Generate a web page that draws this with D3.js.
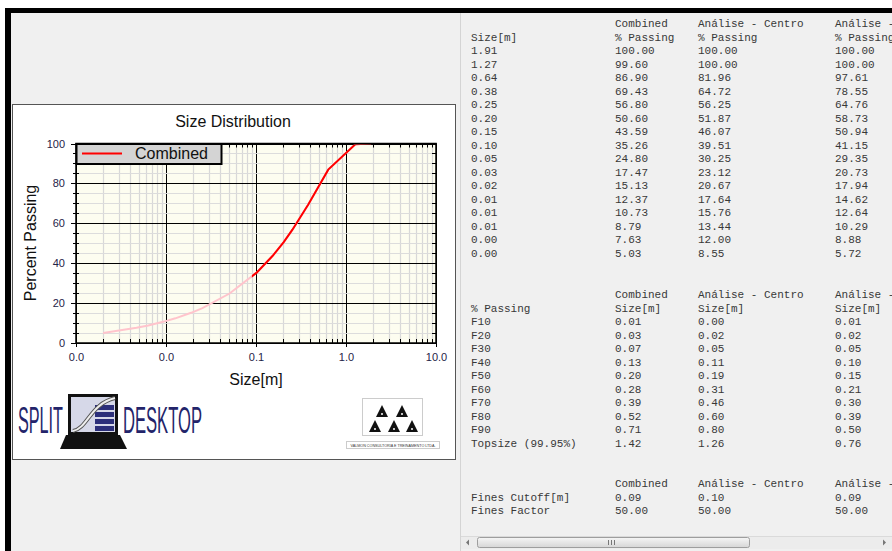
<!DOCTYPE html>
<html>
<head>
<meta charset="utf-8">
<script src="https://cdn.jsdelivr.net/npm/d3@7"></script>
<style>
  body { margin: 0; background: #ffffff; overflow: hidden; }
  svg { display: block; }
  .mono { font-family: "Liberation Mono", "Courier New", monospace; font-size: 11px; fill: #383838; }
  .tick text { font-family: "Liberation Sans", Arial, sans-serif; font-size: 11px; fill: #1f2348; }
</style>
</head>
<body>
<svg id="page" width="892" height="551"></svg>
<script>

// sieve sizes [m] and % passing per analysis
var sizes = [1.905, 1.27, 0.635, 0.381, 0.254, 0.2032, 0.1524, 0.1016, 0.0508, 0.0254, 0.019, 0.0127, 0.0095, 0.00635, 0.0047, 0.002];
var combinedPassing = [100.00, 99.60, 86.90, 69.43, 56.80, 50.60, 43.59, 35.26, 24.80, 17.47, 15.13, 12.37, 10.73, 8.79, 7.63, 5.03];
var centroPassing = [100.00, 100.00, 81.96, 64.72, 56.25, 51.87, 46.07, 39.51, 30.25, 23.12, 20.67, 17.64, 15.76, 13.44, 12.00, 8.55];
var thirdPassing = [100.00, 100.00, 97.61, 78.55, 64.76, 58.73, 50.94, 41.15, 29.35, 20.73, 17.94, 14.62, 12.64, 10.29, 8.88, 5.72];

var seriesNames = ["Combined", "Análise - Centro", "Análise -"];

var fLabels = ["F10", "F20", "F30", "F40", "F50", "F60", "F70", "F80", "F90", "Topsize (99.95%)"];
var combinedF = [0.01, 0.03, 0.07, 0.13, 0.20, 0.28, 0.39, 0.52, 0.71, 1.42];
var centroF = [0.00, 0.02, 0.05, 0.11, 0.19, 0.31, 0.46, 0.60, 0.80, 1.26];
var thirdF = [0.01, 0.02, 0.05, 0.10, 0.15, 0.21, 0.30, 0.39, 0.50, 0.76];

var finesCutoff = [0.09, 0.10, 0.09];
var finesFactor = [50.00, 50.00, 50.00];

var xTickValues = [0.001, 0.01, 0.1, 1, 10];
var yTickValues = [0, 20, 40, 60, 80, 100];

var svg = d3.select("#page");
var f2 = d3.format(".2f");

// window frame
svg.append("rect").attr("x", 5).attr("y", 8).attr("width", 887).attr("height", 543).attr("fill", "#000");
svg.append("rect").attr("x", 11).attr("y", 13).attr("width", 881).attr("height", 538).attr("fill", "#f0f0f0");
svg.append("line").attr("x1", 460.5).attr("x2", 460.5).attr("y1", 13).attr("y2", 551).attr("stroke", "#d4d4d4");

// chart panel
svg.append("rect").attr("x", 12.5).attr("y", 104.5).attr("width", 443).attr("height", 355)
   .attr("fill", "#fff").attr("stroke", "#555");

var x = d3.scaleLog().domain([0.001, 10]).range([76, 436]);
var y = d3.scaleLinear().domain([0, 100]).range([343, 143.5]);

var data = sizes.map(function(s, i) { return {size: s, value: combinedPassing[i]}; });

var plot = svg.append("g");

plot.append("rect").attr("x", 76).attr("y", 143.5).attr("width", 360).attr("height", 199.5).attr("fill", "#fdfdf0");

// grid
var minorX = x.ticks();
plot.selectAll(".gx").data(minorX).enter().append("line")
    .attr("x1", function(d) { return Math.round(x(d)) + 0.5; })
    .attr("x2", function(d) { return Math.round(x(d)) + 0.5; })
    .attr("y1", 143.5).attr("y2", 343)
    .attr("stroke", function(d) { return xTickValues.indexOf(d) >= 0 ? "#000" : "#d8d8d8"; })
    .attr("stroke-width", function(d) { return xTickValues.indexOf(d) >= 0 ? 1 : 1.2; });

var minorY = d3.range(0, 101, 5);
plot.selectAll(".gy").data(minorY).enter().append("line")
    .attr("x1", 76).attr("x2", 436)
    .attr("y1", function(d) { return Math.round(y(d)) + 0.5; })
    .attr("y2", function(d) { return Math.round(y(d)) + 0.5; })
    .attr("stroke", function(d) { return d % 20 == 0 ? "#000" : "#dcdcdc"; });

// curve: pale below fines cutoff, red above
var valueline = d3.line()
                  .x(function(d) { return x(d.size); })
                  .y(function(d) { return y(d.value); });

var defs = svg.append("defs");
defs.append("clipPath").attr("id", "inside")
    .append("rect").attr("x", 76).attr("y", 144.6).attr("width", 360).attr("height", 198);
defs.append("clipPath").attr("id", "coarse")
    .append("rect").attr("x", x(finesCutoff[0])).attr("y", 144.6).attr("width", 436 - x(finesCutoff[0])).attr("height", 198);

plot.append("path").datum(data)
    .attr("clip-path", "url(#inside)")
    .attr("fill", "none").attr("stroke", "#ffc4cc").attr("stroke-width", 2).attr("d", valueline);
plot.append("path").datum(data)
    .attr("clip-path", "url(#coarse)")
    .attr("fill", "none").attr("stroke", "#ff0000").attr("stroke-width", 2).attr("d", valueline);

// minor ticks on all sides
plot.selectAll(".tb").data(minorX).enter().append("line")
    .attr("x1", function(d) { return Math.round(x(d)) + 0.5; })
    .attr("x2", function(d) { return Math.round(x(d)) + 0.5; })
    .attr("y1", 343).attr("y2", function(d) { return xTickValues.indexOf(d) >= 0 ? 347 : 339; })
    .attr("stroke", "#000");
plot.selectAll(".tt").data(minorX).enter().append("line")
    .attr("x1", function(d) { return Math.round(x(d)) + 0.5; })
    .attr("x2", function(d) { return Math.round(x(d)) + 0.5; })
    .attr("y1", 143.5).attr("y2", 147.5)
    .attr("stroke", "#000");
plot.selectAll(".tl").data(minorY).enter().append("line")
    .attr("x1", function(d) { return d % 20 == 0 ? 71 : 73; }).attr("x2", 79)
    .attr("y1", function(d) { return Math.round(y(d)) + 0.5; })
    .attr("y2", function(d) { return Math.round(y(d)) + 0.5; })
    .attr("stroke", "#000");
plot.selectAll(".tr").data(minorY).enter().append("line")
    .attr("x1", 432).attr("x2", 436)
    .attr("y1", function(d) { return Math.round(y(d)) + 0.5; })
    .attr("y2", function(d) { return Math.round(y(d)) + 0.5; })
    .attr("stroke", "#000");

plot.append("rect").attr("x", 76).attr("y", 143.5).attr("width", 360).attr("height", 199.5)
    .attr("fill", "none").attr("stroke", "#000").attr("stroke-width", 1.5);

// axis labels
var xAxis = svg.append("g").attr("transform", "translate(0,343)")
               .call(d3.axisBottom(x).tickValues(xTickValues).tickFormat(d3.format(".1f")).tickSize(0).tickPadding(10));
xAxis.select(".domain").remove();

var yAxis = svg.append("g").attr("transform", "translate(76,0)")
               .call(d3.axisLeft(y).tickValues(yTickValues).tickSize(0).tickPadding(11));
yAxis.select(".domain").remove();

svg.append("text").attr("x", 233).attr("y", 127).attr("text-anchor", "middle")
   .style("font-family", "Liberation Sans, Arial, sans-serif").style("font-size", "16px").style("fill", "#111")
   .text("Size Distribution");
svg.append("text").attr("x", 256).attr("y", 385).attr("text-anchor", "middle")
   .style("font-family", "Liberation Sans, Arial, sans-serif").style("font-size", "16px").style("fill", "#111")
   .text("Size[m]");
svg.append("text").attr("transform", "translate(36,243) rotate(-90)").attr("text-anchor", "middle")
   .style("font-family", "Liberation Sans, Arial, sans-serif").style("font-size", "16px").style("fill", "#111")
   .text("Percent Passing");

// legend
var legend = svg.append("g");
legend.append("rect").attr("x", 76.5).attr("y", 144).attr("width", 145).attr("height", 20)
      .attr("fill", "#d4d4d4").attr("stroke", "#000").attr("stroke-width", 2);
legend.append("line").attr("x1", 82).attr("x2", 122).attr("y1", 153.5).attr("y2", 153.5)
      .attr("stroke", "#ff0000").attr("stroke-width", 2);
legend.append("text").attr("x", 135).attr("y", 159)
      .style("font-family", "Liberation Sans, Arial, sans-serif").style("font-size", "16px").style("fill", "#111")
      .text(seriesNames[0]);

// SPLIT DESKTOP logo
var logo = svg.append("g");
logo.append("text").attr("x", 18).attr("y", 433).attr("textLength", 45).attr("lengthAdjust", "spacingAndGlyphs")
    .style("font-family", "Liberation Sans, Arial, sans-serif").style("font-size", "37px").style("fill", "#23246a")
    .text("SPLIT");
logo.append("text").attr("x", 123).attr("y", 433).attr("textLength", 79).attr("lengthAdjust", "spacingAndGlyphs")
    .style("font-family", "Liberation Sans, Arial, sans-serif").style("font-size", "37px").style("fill", "#23246a")
    .text("DESKTOP");
logo.append("rect").attr("x", 68).attr("y", 394).attr("width", 50).attr("height", 41).attr("fill", "#111");
logo.append("rect").attr("x", 71).attr("y", 397).attr("width", 44).attr("height", 35).attr("fill", "#d6d8e8");
[0, 1, 2, 3].forEach(function(i) {
  logo.append("rect").attr("x", 95).attr("y", 405 + i * 7).attr("width", 19).attr("height", 5).attr("fill", "#2c2f7a");
});
logo.append("path").attr("d", "M73,431 C88,428 90,404 115,398").attr("fill", "none").attr("stroke", "#555").attr("stroke-width", 4);
logo.append("path").attr("d", "M73,431 C88,428 90,404 115,398").attr("fill", "none").attr("stroke", "#eee").attr("stroke-width", 2);
logo.append("path").attr("d", "M66,435 L120,435 L127,449 L60,449 Z").attr("fill", "#111");

// consulting logo
var logo2 = svg.append("g");
logo2.append("rect").attr("x", 362.5).attr("y", 398.5).attr("width", 60).attr("height", 37).attr("fill", "#fff").attr("stroke", "#ccc");
[[382, 405], [402, 405], [375, 420], [394, 420], [412, 420]].forEach(function(p) {
  logo2.append("path").attr("d", "M" + p[0] + "," + p[1] + " L" + (p[0] + 6) + "," + (p[1] + 12) + " L" + (p[0] - 6) + "," + (p[1] + 12) + " Z").attr("fill", "#111");
  logo2.append("circle").attr("cx", p[0]).attr("cy", p[1] + 9).attr("r", 1).attr("fill", "#fff");
});
logo2.append("rect").attr("x", 346.5).attr("y", 441.5).attr("width", 93).attr("height", 7).attr("fill", "#fff").attr("stroke", "#ccc");
logo2.append("text").attr("x", 393).attr("y", 446.5).attr("text-anchor", "middle").attr("textLength", 85).attr("lengthAdjust", "spacingAndGlyphs")
     .style("font-family", "Liberation Sans, Arial, sans-serif").style("font-size", "4px").style("fill", "#333")
     .text("VALMON CONSULTORIA E TREINAMENTO LTDA.");

// results tables
var colX = [471, 615, 698, 835];
var rowH = 13.5;

function addRow(cells, yy) {
  cells.forEach(function(c, i) {
    svg.append("text").attr("class", "mono").attr("x", colX[i]).attr("y", yy).attr("xml:space", "preserve").text(c);
  });
}

var t1 = 27;
addRow(["", seriesNames[0], seriesNames[1], seriesNames[2]], t1);
addRow(["Size[m]", "% Passing", "% Passing", "% Passing"], t1 + rowH);
sizes.forEach(function(s, i) {
  addRow([f2(s), f2(combinedPassing[i]), f2(centroPassing[i]), f2(thirdPassing[i])], t1 + rowH * (i + 2));
});

var t2 = 298;
addRow(["", seriesNames[0], seriesNames[1], seriesNames[2]], t2);
addRow(["% Passing", "Size[m]", "Size[m]", "Size[m]"], t2 + rowH);
fLabels.forEach(function(l, i) {
  addRow([l, f2(combinedF[i]), f2(centroF[i]), f2(thirdF[i])], t2 + rowH * (i + 2));
});

var t3 = 487;
addRow(["", seriesNames[0], seriesNames[1], seriesNames[2]], t3);
addRow(["Fines Cutoff[m]", f2(finesCutoff[0]), f2(finesCutoff[1]), f2(finesCutoff[2])], t3 + rowH);
addRow(["Fines Factor", f2(finesFactor[0]), f2(finesFactor[1]), f2(finesFactor[2])], t3 + rowH * 2);

// horizontal scrollbar
var sb = svg.append("g");
sb.append("rect").attr("x", 461).attr("y", 536).attr("width", 431).attr("height", 13).attr("fill", "#ececec");
sb.append("line").attr("x1", 461).attr("x2", 892).attr("y1", 536.5).attr("y2", 536.5).attr("stroke", "#dadada");
sb.append("path").attr("d", "M466,542.5 L469,539.5 L469,545.5 Z").attr("fill", "#777");
sb.append("path").attr("d", "M886,542.5 L883,539.5 L883,545.5 Z").attr("fill", "#777");
var grad = defs.append("linearGradient").attr("id", "thumb").attr("x1", 0).attr("x2", 0).attr("y1", 0).attr("y2", 1);
grad.append("stop").attr("offset", "0%").attr("stop-color", "#f6f6f6");
grad.append("stop").attr("offset", "100%").attr("stop-color", "#d6d6d6");
sb.append("rect").attr("x", 477.5).attr("y", 537.5).attr("width", 272).attr("height", 10).attr("rx", 2)
  .attr("fill", "url(#thumb)").attr("stroke", "#9e9e9e");
[608, 611, 614].forEach(function(gx) {
  sb.append("line").attr("x1", gx + 0.5).attr("x2", gx + 0.5).attr("y1", 540).attr("y2", 545).attr("stroke", "#777");
});

</script>
</body>
</html>
